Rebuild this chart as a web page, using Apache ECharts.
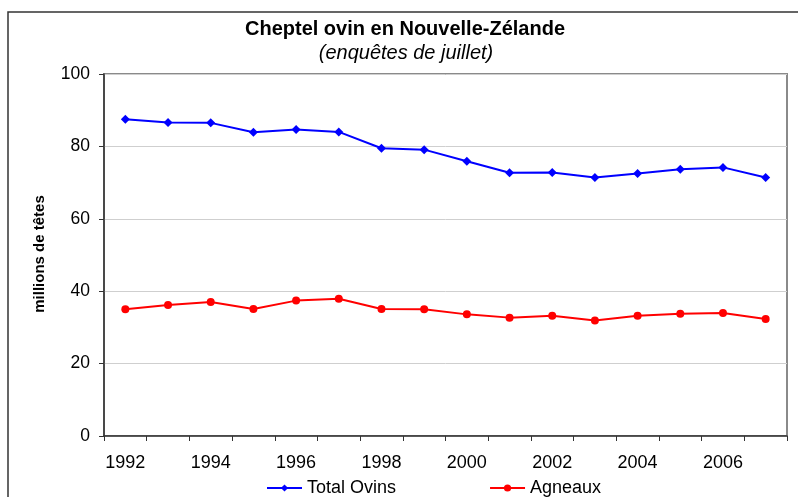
<!DOCTYPE html>
<html>
<head>
<meta charset="utf-8">
<script src="https://cdn.jsdelivr.net/npm/echarts@6/dist/echarts.min.js"></script>
<style>html,body{margin:0;padding:0;background:#fff}#c{width:798px;height:497px}</style>
</head>
<body>
<div id="c"></div>
<script>
var years = ['1992','1993','1994','1995','1996','1997','1998','1999','2000','2001','2002','2003','2004','2005','2006','2007'];
var totalOvins = [87.5, 86.6, 86.5, 83.9, 84.7, 84.0, 79.5, 79.1, 75.9, 72.7, 72.8, 71.4, 72.5, 73.7, 74.2, 71.4];
var agneaux = [35.0, 36.2, 37.0, 35.1, 37.4, 37.9, 35.1, 35.0, 33.6, 32.7, 33.2, 31.9, 33.2, 33.8, 34.0, 32.3];
var yTicks = {min: 0, max: 100, interval: 20};
var titleText = 'Cheptel ovin en Nouvelle-Zélande';
var subtitleText = '(enquêtes de juillet)';
var yName = 'millions de têtes';

var F = '"Liberation Sans", Arial, sans-serif';
var chart = echarts.init(document.getElementById('c'), null, {renderer: 'canvas'});
chart.setOption({
  animation: false,
  backgroundColor: '#fff',
  textStyle: {fontFamily: F},
  grid: {left: 104, right: 11, top: 74, bottom: 61, show: true, borderColor: '#8a8a8a', borderWidth: 2, backgroundColor: 'transparent'},
  graphic: [
    {type: 'rect', shape: {x: 8, y: 12, width: 820, height: 520}, style: {fill: 'none', stroke: '#333', lineWidth: 1.5}, silent: true},
    {type: 'text', x: 405, y: 29, style: {text: titleText, font: 'bold 20px ' + F, fill: '#000', align: 'center', verticalAlign: 'middle'}},
    {type: 'text', x: 406, y: 53, style: {text: subtitleText, font: 'italic 20px ' + F, fill: '#000', align: 'center', verticalAlign: 'middle'}},
    {type: 'text', x: 40, y: 254, rotation: Math.PI / 2, style: {text: yName, font: 'bold 15px ' + F, fill: '#000', align: 'center', verticalAlign: 'middle'}}
  ],
  legend: {
    left: 261, top: 474, itemGap: 93, itemWidth: 35, itemHeight: 9,
    textStyle: {fontFamily: F, fontSize: 18, color: '#000'},
    data: ['Total Ovins', 'Agneaux']
  },
  xAxis: {
    type: 'category', data: years, boundaryGap: true,
    axisLine: {lineStyle: {color: '#333', width: 1.5}},
    axisTick: {show: true, interval: 0, length: 5, lineStyle: {color: '#333', width: 1}},
    axisLabel: {interval: 1, fontFamily: F, fontSize: 18, color: '#000', margin: 18},
    splitLine: {show: false}
  },
  yAxis: {
    type: 'value', min: yTicks.min, max: yTicks.max, interval: yTicks.interval,
    axisLine: {show: true, lineStyle: {color: '#333', width: 1.5}},
    axisTick: {show: true, length: 5, lineStyle: {color: '#333', width: 1}},
    axisLabel: {fontFamily: F, fontSize: 17.5, color: '#000', margin: 14},
    splitLine: {show: true, lineStyle: {color: '#cfcfcf', width: 1}}
  },
  series: [
    {name: 'Total Ovins', type: 'line', data: totalOvins, symbol: 'diamond', symbolSize: 9,
     lineStyle: {color: '#0000ff', width: 2}, itemStyle: {color: '#0000ff'}},
    {name: 'Agneaux', type: 'line', data: agneaux, symbol: 'circle', symbolSize: 8,
     lineStyle: {color: '#ff0000', width: 2}, itemStyle: {color: '#ff0000'}}
  ]
});
</script>
</body>
</html>
